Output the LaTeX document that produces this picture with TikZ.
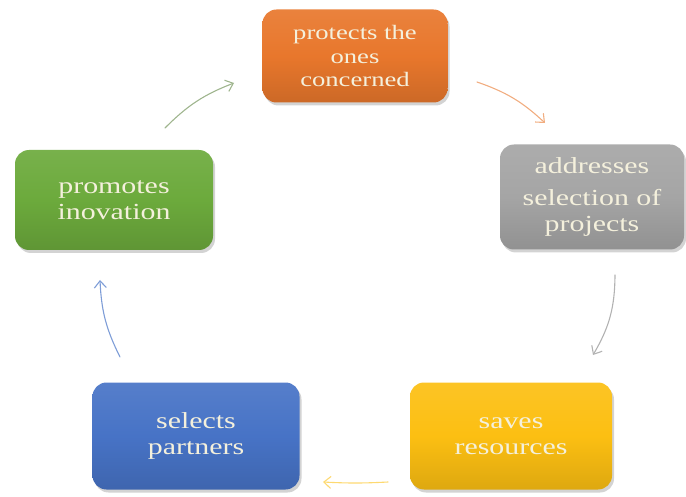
\documentclass[tikz,border=0pt]{standalone}
\usepackage{fontspec}
\setmainfont[FakeStretch=1.3]{Liberation Serif}
\usetikzlibrary{shadows,arrows.meta}
\definecolor{corange}{HTML}{E8772C}
\definecolor{cgray}{HTML}{A5A5A5}
\definecolor{cgreen}{HTML}{6CAA3C}
\definecolor{cblue}{HTML}{4773C6}
\definecolor{cyellow}{HTML}{FCBF12}
\definecolor{ctext}{HTML}{F4F0DC}
\tikzset{
  box/.style={rounded corners=14pt, align=center, text=ctext, font=\fontsize{23}{26}\selectfont,
    inner sep=0pt, drop shadow={shadow xshift=2pt, shadow yshift=-3pt, opacity=0.35},
    top color=#1!92!white, bottom color=#1!88!black, middle color=#1},
  cyc/.style={-{Straight Barb[length=7pt,width=12pt]}, line width=1.1pt, line cap=round, draw=#1}
}
\begin{document}
\begin{tikzpicture}[x=1pt,y=-1pt]
\useasboundingbox (0,0) rectangle (686,497);
\node[box=corange, minimum width=185pt, minimum height=93pt, font=\fontsize{20.5}{23.5}\selectfont] (prot) at (355,56) {protects the\\ones\\concerned};
\node[box=cgray, minimum width=184pt, minimum height=105pt] (addr) at (592,197) {addresses\\[6pt]selection of\\projects};
\node[box=cgreen, minimum width=198pt, minimum height=100pt] (prom) at (114,200) {promotes\\inovation};
\node[box=cblue, minimum width=207pt, minimum height=107pt] (sel) at (196,436) {selects\\partners};
\node[box=cyellow, minimum width=202pt, minimum height=107pt] (sav) at (511,436) {saves\\resources};
\coordinate (a1) at (165,128); \coordinate (b1) at (234,83);
\coordinate (a2) at (477,82);  \coordinate (b2) at (545,123);
\coordinate (a3) at (615,275); \coordinate (b3) at (593,355);
\coordinate (a4) at (388,482); \coordinate (b4) at (323,482);
\coordinate (a5) at (120,357); \coordinate (b5) at (100,280);
\draw[cyc=cgreen!50!gray!70] (a1) to[bend left=12] (b1);
\draw[cyc=corange!60] (a2) to[bend left=12] (b2);
\draw[cyc=gray!60] (a3) to[bend left=15] (b3);
\draw[cyc=cyellow!60] (a4) to[bend left=3] (b4);
\draw[cyc=cblue!70] (a5) to[bend left=12] (b5);
\end{tikzpicture}
\end{document}
